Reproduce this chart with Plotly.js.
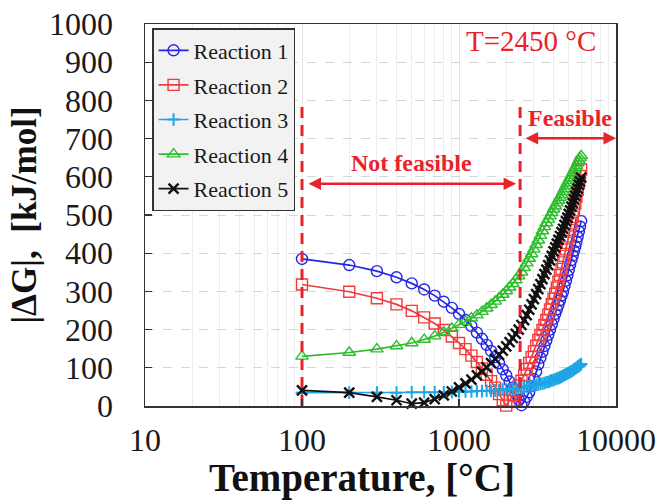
<!DOCTYPE html>
<html>
<head>
<meta charset="utf-8">
<script src="https://cdn.plot.ly/plotly-3.0.1.min.js"></script>
<style>
  html, body { margin: 0; padding: 0; background: #ffffff; }
  #chart { width: 671px; height: 503px; }
</style>
</head>
<body>
<div id="chart"></div>
<script>
// Temperature grid, °C
const temperature = [
  100, 200, 300, 400, 500, 600, 700, 800, 900, 1000,
  1100, 1200, 1300, 1400, 1500, 1600, 1700, 1800, 1900, 2000,
  2100, 2200, 2300, 2400, 2500, 2600, 2700, 2800, 2900, 3000,
  3100, 3200, 3300, 3400, 3500, 3600, 3700, 3800, 3900, 4000,
  4100, 4200, 4300, 4400, 4500, 4600, 4700, 4800, 4900, 5000,
  5100, 5200, 5300, 5400, 5500, 5600, 5700, 5800, 5900, 6000
];

// |ΔG| in kJ/mol for each reaction
const reaction1 = [
  385, 369, 353, 337, 321, 305, 289, 273, 257, 241,
  225, 209, 192, 176, 160, 144, 128, 112, 96, 80,
  64, 48, 32, 16, 2, 12, 24, 36, 52, 70,
  90, 109, 126, 142, 157, 172, 186, 200, 214, 228,
  241, 253, 265, 277, 289, 300, 314, 328, 342, 356,
  370, 382, 394, 406, 418, 430, 443, 457, 470, 484
];
const reaction2 = [
  318, 299, 282, 266, 249, 232, 216, 199, 182, 165,
  149, 132, 115, 98, 82, 65, 48, 31, 15, 1,
  14, 28, 40, 54, 66, 80, 97, 113, 128, 143,
  158, 173, 186, 199, 212, 225, 239, 253, 267, 281,
  294, 310, 326, 343, 359, 376, 393, 410, 427, 444,
  461, 478, 495, 512, 530, 548, 566, 584, 602, 619
];
const reaction3 = [
  35, 35, 35, 35, 36, 36, 36, 36, 37, 37,
  38, 38, 39, 39, 40, 40, 41, 42, 43, 43,
  44, 45, 46, 47, 48, 49, 50, 51, 52, 54,
  55, 56, 58, 59, 60, 62, 63, 65, 67, 68,
  70, 72, 73, 75, 77, 79, 81, 83, 85, 87,
  89, 91, 93, 96, 98, 100, 103, 105, 107, 110
];
const reaction4 = [
  130, 140, 149, 157, 165, 174, 183, 193, 203, 213,
  221, 230, 238, 247, 256, 265, 274, 283, 292, 301,
  311, 320, 330, 340, 350, 362, 374, 386, 398, 410,
  422, 434, 446, 458, 469, 479, 488, 497, 506, 515,
  523, 531, 538, 546, 553, 561, 568, 576, 583, 590,
  597, 603, 610, 616, 623, 629, 636, 642, 649, 655
];
const reaction5 = [
  41, 35, 24, 15, 6, 9, 18, 28, 38, 49,
  59, 69, 80, 90, 101, 112, 123, 134, 145, 156,
  167, 178, 189, 200, 212, 225, 238, 252, 266, 280,
  293, 306, 319, 332, 345, 357, 369, 381, 393, 405,
  415, 425, 435, 445, 455, 464, 474, 484, 493, 503,
  512, 522, 531, 541, 550, 560, 569, 579, 588, 598
];

const seriesNames = ["Reaction 1", "Reaction 2", "Reaction 3", "Reaction 4", "Reaction 5"];

// Feasibility boundaries (°C) and the height of the boundary markers (kJ/mol)
const lowerBound = 100;
const feasibleFrom = 2450;
const upperBound = 10000;
const boundaryTop = 800;

// Axis ticks
const xTickVals = [10, 100, 1000, 10000];
const xTickText = ["10", "100", "1000", "10000"];

const SERIF = "Liberation Serif, Times New Roman, serif";
const RED = "#e8232b";

function series(name, y, color, symbol, size, lw) {
  return {
    type: "scatter", mode: "lines+markers", name: name,
    x: temperature, y: y,
    legendgroup: name,
    line: { color: color, width: 1.7 },
    marker: { symbol: symbol, size: size, color: color, line: { color: color, width: lw } },
    cliponaxis: false
  };
}

const traces = [
  series(seriesNames[0], reaction1, "#2626e6", "circle-open", 11, 1.4),
  series(seriesNames[1], reaction2, "#f03c3c", "square-open", 11, 1.4),
  series(seriesNames[2], reaction3, "#1ea5e6", "cross-thin-open", 9, 2),
  series(seriesNames[3], reaction4, "#2dbd2d", "triangle-up-open", 11, 1.4),
  series(seriesNames[4], reaction5, "#111111", "x-thin-open", 10, 2.4),
  {
    type: "scatter", mode: "lines", showlegend: false, hoverinfo: "skip",
    x: [lowerBound, lowerBound], y: [0, boundaryTop],
    line: { color: RED, width: 3, dash: "11px,7px" }
  },
  {
    type: "scatter", mode: "lines", showlegend: false, hoverinfo: "skip",
    x: [feasibleFrom, feasibleFrom], y: [0, boundaryTop],
    line: { color: RED, width: 3, dash: "11px,7px" }
  }
];

const lg = Math.log10;

const layout = {
  width: 671, height: 503,
  margin: { l: 145, r: 55, t: 24, b: 97 },
  paper_bgcolor: "#ffffff", plot_bgcolor: "#ffffff",
  font: { family: SERIF, color: "#1a1a1a" },
  showlegend: true,
  legend: {
    x: 0.015, y: 0.9895, xanchor: "left", yanchor: "top",
    bgcolor: "#f2f2f2", bordercolor: "#333333", borderwidth: 1.5,
    font: { family: SERIF, size: 22, color: "#1a1a1a" },
    tracegroupgap: 3, itemwidth: 30
  },
  xaxis: {
    type: "log", range: [1, 4],
    tickvals: xTickVals, ticktext: xTickText,
    tickfont: { family: SERIF, size: 32, color: "#1a1a1a" },
    ticks: "inside", ticklen: 7, tickcolor: "#333", tickwidth: 1.2,
    ticklabelstandoff: 5,
    showline: true, linecolor: "#333333", linewidth: 1.5, mirror: true,
    showgrid: true, gridcolor: "#e4e4e4", gridwidth: 1,
    minor: { dtick: "D1", showgrid: true, gridcolor: "#ededed", gridwidth: 1, ticks: "" },
    zeroline: false
  },
  yaxis: {
    range: [0, 1000], dtick: 100,
    tickfont: { family: SERIF, size: 32, color: "#1a1a1a" },
    ticks: "inside", ticklen: 7, tickcolor: "#333", tickwidth: 1.2,
    ticklabelstandoff: 24,
    showline: true, linecolor: "#333333", linewidth: 1.5, mirror: true,
    showgrid: true, gridcolor: "#d6d6d6", griddash: "dash", gridwidth: 1,
    zeroline: false,
    title: { text: "<b>|ΔG|,  [kJ/mol]</b>", font: { family: SERIF, size: 35, color: "#111" }, standoff: 2 }
  },
  annotations: [
    {
      // x-axis title
      xref: "paper", yref: "paper", x: 0.461, y: -0.189, xanchor: "center", yanchor: "middle",
      text: "<b>Temperature, [°C]</b>", showarrow: false,
      font: { family: SERIF, size: 39, color: "#111" }
    },
    {
      xref: "paper", yref: "paper", x: 0.82, y: 0.955, xanchor: "center", yanchor: "middle",
      text: "T=2450 °C", showarrow: false, font: { family: SERIF, size: 29, color: RED }
    },
    {
      xref: "x", yref: "y", x: lg(500), y: 635, xanchor: "center", yanchor: "middle",
      text: "<b>Not feasible</b>", showarrow: false, font: { family: SERIF, size: 24, color: RED }
    },
    {
      xref: "x", yref: "y", x: lg(5100), y: 755, xanchor: "center", yanchor: "middle",
      text: "<b>Feasible</b>", showarrow: false, font: { family: SERIF, size: 24, color: RED }
    },
    {
      // double-headed arrow spanning the infeasible range
      xref: "x", yref: "y", axref: "x", ayref: "y",
      x: lg(feasibleFrom), y: 582, ax: lg(lowerBound), ay: 582,
      text: "", showarrow: true, arrowside: "end+start", arrowhead: 2, arrowsize: 1,
      arrowwidth: 2.5, arrowcolor: RED, standoff: 4, startstandoff: 5
    },
    {
      // double-headed arrow spanning the feasible range
      xref: "x", yref: "y", axref: "x", ayref: "y",
      x: lg(upperBound), y: 701, ax: lg(feasibleFrom), ay: 701,
      text: "", showarrow: true, arrowside: "end+start", arrowhead: 2, arrowsize: 1,
      arrowwidth: 2.5, arrowcolor: RED, standoff: 0, startstandoff: 4
    }
  ]
};

Plotly.newPlot("chart", traces, layout, { staticPlot: true, displayModeBar: false });
</script>
</body>
</html>
